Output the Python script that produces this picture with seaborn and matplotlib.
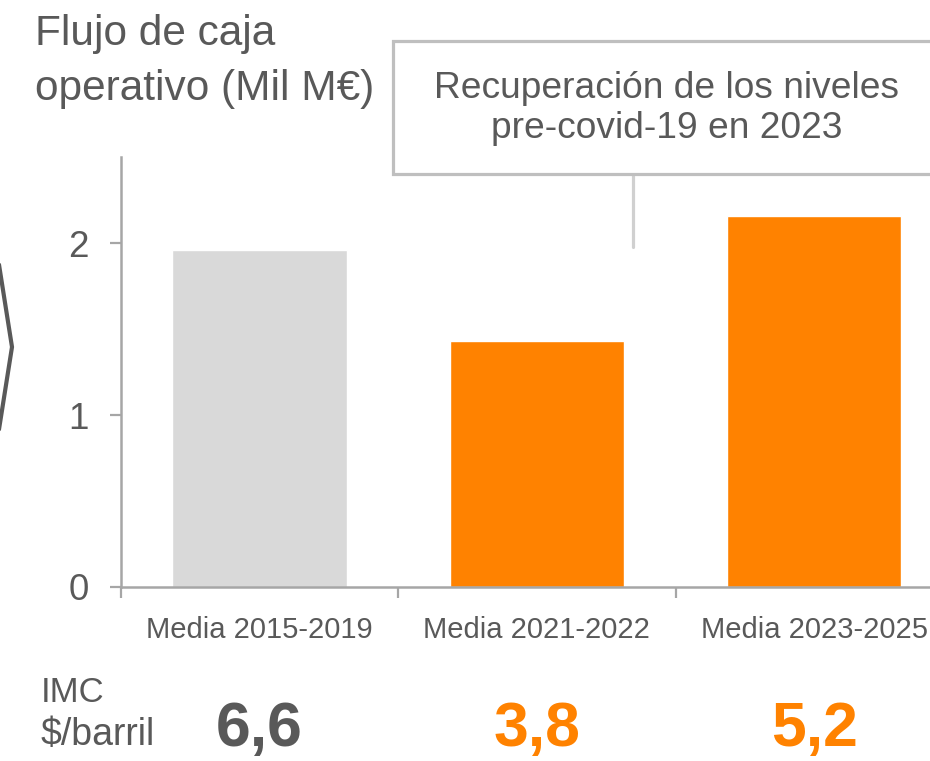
import matplotlib
matplotlib.use("Agg")
import matplotlib.pyplot as plt
import matplotlib.transforms as mtransforms
from matplotlib.lines import Line2D
from matplotlib.patches import Rectangle
import seaborn as sns
import pandas as pd

# ---- data ----
categories = ["Media 2015-2019", "Media 2021-2022", "Media 2023-2025"]
cash_flow = [1.96, 1.43, 2.16]          # Flujo de caja operativo (Mil M€)
imc_labels = ["6,6", "3,8", "5,2"]       # IMC $/barril
y_ticks = [0, 1, 2]

# ---- style ----
GRAY_TXT = "#595959"
ORANGE = "#FF8200"
GRAY_BAR = "#D9D9D9"
SPINE = "#A6A6A6"
bar_colors = [GRAY_BAR, ORANGE, ORANGE]
imc_colors = [GRAY_TXT, ORANGE, ORANGE]

sns.set_style("white")
plt.rcParams["font.family"] = ["Liberation Sans", "DejaVu Sans"]

W, H = 930, 761
fig = plt.figure(figsize=(W / 100, H / 100), dpi=100)

def fx(x):
    return x / W

def fy(y):
    return 1 - y / H

# axes: left spine at px 121, y=0 at px 586.7, 277.25 px per category, 171.7 px per unit
left_px, zero_px = 121, 586.7
ax = fig.add_axes([fx(left_px), fy(zero_px), 3 * 277.25 / W, 2.5 * 171.7 / H])

df = pd.DataFrame({"cat": categories, "val": cash_flow})
sns.barplot(data=df, x="cat", y="val", hue="cat", palette=bar_colors,
            width=0.63, legend=False, ax=ax, saturation=1)

ax.set_xlim(-0.5, 2.5)
ax.set_ylim(0, 2.5)
ax.set_xlabel("")
ax.set_ylabel("")
ax.set_yticks(y_ticks)
ax.set_yticklabels([str(t) for t in y_ticks])

for s in ["top", "right"]:
    ax.spines[s].set_visible(False)
for s in ["left", "bottom"]:
    ax.spines[s].set_color(SPINE)
    ax.spines[s].set_linewidth(1.8)

# y ticks
ax.tick_params(axis="y", which="major", direction="out", length=8, width=1.6,
               color=SPINE, labelcolor=GRAY_TXT, labelsize=26.5, pad=15, left=True)
# x ticks: labels at categories, tick marks at boundaries
ax.set_xticks(range(len(categories)))
ax.set_xticklabels(categories)
ax.set_xticks([-0.5, 0.5, 1.5, 2.5], minor=True)
ax.tick_params(axis="x", which="major", length=0, labelcolor=GRAY_TXT,
               labelsize=21, pad=21)
ax.tick_params(axis="x", which="minor", direction="out", length=8, width=1.6,
               color=SPINE, bottom=True)

# ---- title ----
fig.text(fx(35), fy(45), "Flujo de caja", fontsize=30.5, color=GRAY_TXT,
         ha="left", va="baseline")
fig.text(fx(35), fy(100), "operativo (Mil M€)", fontsize=30.5, color=GRAY_TXT,
         ha="left", va="baseline")

# ---- callout box ----
fig.add_artist(Rectangle((fx(393), fy(174)), (955 - 393) / W, (174 - 41) / H,
                         transform=fig.transFigure, facecolor="white",
                         edgecolor="#BFBFBF", linewidth=2.3, zorder=5))
fig.add_artist(Line2D([fx(633), fx(633)], [fy(175), fy(247)],
                      transform=fig.transFigure, color="#D0D0D0", linewidth=2.3))
fig.text(fx(667), fy(98), "Recuperación de los niveles", fontsize=26.7,
         color=GRAY_TXT, ha="center", va="baseline", zorder=6)
fig.text(fx(667), fy(138), "pre-covid-19 en 2023", fontsize=26.7,
         color=GRAY_TXT, ha="center", va="baseline", zorder=6)

# ---- chevron on the left ----
fig.add_artist(Line2D([fx(-3), fx(12), fx(-3)], [fy(252), fy(347), fy(442)],
                      transform=fig.transFigure, color=GRAY_TXT, linewidth=3,
                      solid_joinstyle="miter"))

# ---- IMC row ----
fig.text(fx(41), fy(702), "IMC", fontsize=25, color=GRAY_TXT,
         ha="left", va="baseline")
fig.text(fx(41), fy(745), "$/barril", fontsize=27, color=GRAY_TXT,
         ha="left", va="baseline")
trans = mtransforms.blended_transform_factory(ax.transData, fig.transFigure)
for i, (lab, col) in enumerate(zip(imc_labels, imc_colors)):
    ax.text(i, fy(746), lab, transform=trans, fontsize=45, fontweight="bold",
            color=col, ha="center", va="baseline", clip_on=False)

fig.savefig("out.png", dpi=100)
